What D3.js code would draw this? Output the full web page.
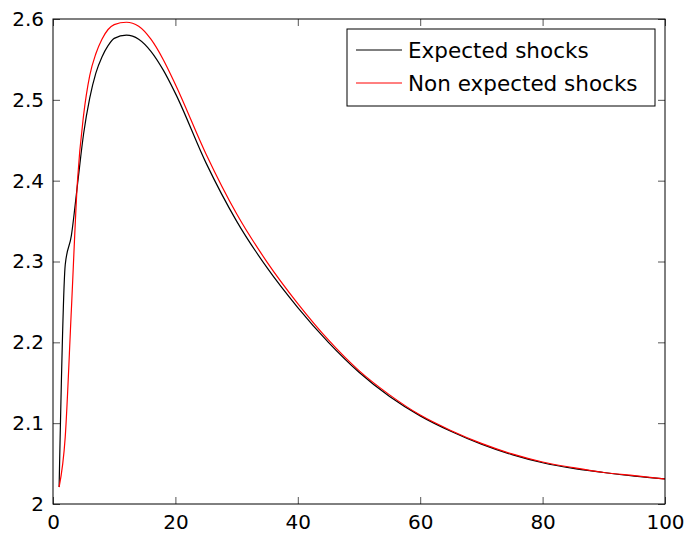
<!DOCTYPE html>
<html>
<head>
<meta charset="utf-8">
<script src="https://cdn.jsdelivr.net/npm/d3@7"></script>
<style>
  body { margin: 0; background: #fff; }
  text { font-family: "DejaVu Sans", sans-serif; fill: #000; }
</style>
</head>
<body>
<svg></svg>
<script>
// values
var xs = [1, 2, 3, 4, 5, 6, 7, 8, 9, 10, 12, 14, 16, 18, 20, 25, 30, 35, 40, 45, 50, 55, 60, 65, 70, 75, 80, 85, 90, 95, 100];
var expected = [2.021, 2.296, 2.332, 2.395, 2.458, 2.502, 2.533, 2.553, 2.567, 2.576, 2.580, 2.575, 2.560, 2.537, 2.508, 2.422, 2.350, 2.292, 2.243, 2.200, 2.163, 2.133, 2.109, 2.090, 2.074, 2.061, 2.051, 2.044, 2.039, 2.0345, 2.031];
var nonExpected = [2.021, 2.083, 2.240, 2.400, 2.481, 2.530, 2.557, 2.575, 2.587, 2.593, 2.596, 2.591, 2.575, 2.550, 2.519, 2.433, 2.359, 2.299, 2.248, 2.203, 2.165, 2.135, 2.110, 2.091, 2.075, 2.062, 2.052, 2.045, 2.039, 2.035, 2.031];
var xTicks = [0, 20, 40, 60, 80, 100];
var yTicks = [2, 2.1, 2.2, 2.3, 2.4, 2.5, 2.6];
var seriesNames = ["Expected shocks", "Non expected shocks"];
var seriesColors = ["#000", "#f00"];

var svgWidth = 690, svgHeight = 533;
var mLeft = 53, mRight = 665, mTop = 19, mBottom = 504;

var svg = d3.select("svg")
  .attr("width", svgWidth)
  .attr("height", svgHeight);

var x = d3.scaleLinear().domain([0, 100]).range([mLeft, mRight]);
var y = d3.scaleLinear().domain([2, 2.6]).range([mBottom, mTop]);

var tickLen = 7;

// inner ticks on all four sides
svg.append("g")
  .attr("transform", "translate(0," + mBottom + ")")
  .call(d3.axisBottom(x).tickValues(xTicks).tickSize(-tickLen).tickPadding(tickLen + 4).tickFormat(d3.format("d")))
  .call(function(g) { g.select(".domain").remove(); })
  .selectAll("text").style("font-size", "20px");

svg.append("g")
  .attr("transform", "translate(0," + mTop + ")")
  .call(d3.axisTop(x).tickValues(xTicks).tickSize(-tickLen).tickFormat(""))
  .call(function(g) { g.select(".domain").remove(); });

svg.append("g")
  .attr("transform", "translate(" + mLeft + ",0)")
  .call(d3.axisLeft(y).tickValues(yTicks).tickSize(-tickLen).tickPadding(tickLen + 2).tickFormat(function(d) { return d === 2 ? "2" : d3.format(".1f")(d); }))
  .call(function(g) { g.select(".domain").remove(); })
  .selectAll("text").style("font-size", "20px");

svg.append("g")
  .attr("transform", "translate(" + mRight + ",0)")
  .call(d3.axisRight(y).tickValues(yTicks).tickSize(-tickLen).tickFormat(""))
  .call(function(g) { g.select(".domain").remove(); });

svg.selectAll(".tick line").attr("stroke", "#555");

var line = d3.line()
  .x(function(d) { return x(d[0]); })
  .y(function(d) { return y(d[1]); })
  .curve(d3.curveMonotoneX);

[expected, nonExpected].forEach(function(vals, i) {
  svg.append("path")
    .datum(xs.map(function(v, j) { return [v, vals[j]]; }))
    .attr("fill", "none")
    .attr("stroke", seriesColors[i])
    .attr("stroke-width", 1.2)
    .attr("d", line);
});

// frame
svg.append("rect")
  .attr("x", mLeft).attr("y", mTop)
  .attr("width", mRight - mLeft).attr("height", mBottom - mTop)
  .attr("fill", "none").attr("stroke", "#000").attr("stroke-width", 1);

// legend
var lg = svg.append("g").attr("transform", "translate(347,29)");
lg.append("rect")
  .attr("width", 308).attr("height", 77)
  .attr("fill", "#fff").attr("stroke", "#000").attr("stroke-width", 1);
seriesNames.forEach(function(name, i) {
  var cy = 21 + i * 33;
  lg.append("line")
    .attr("x1", 9).attr("x2", 55)
    .attr("y1", cy).attr("y2", cy)
    .attr("stroke", seriesColors[i]).attr("stroke-width", 1);
  lg.append("text")
    .attr("x", 61).attr("y", cy)
    .attr("dy", "0.35em")
    .style("font-size", "21.5px")
    .text(name);
});
</script>
</body>
</html>
